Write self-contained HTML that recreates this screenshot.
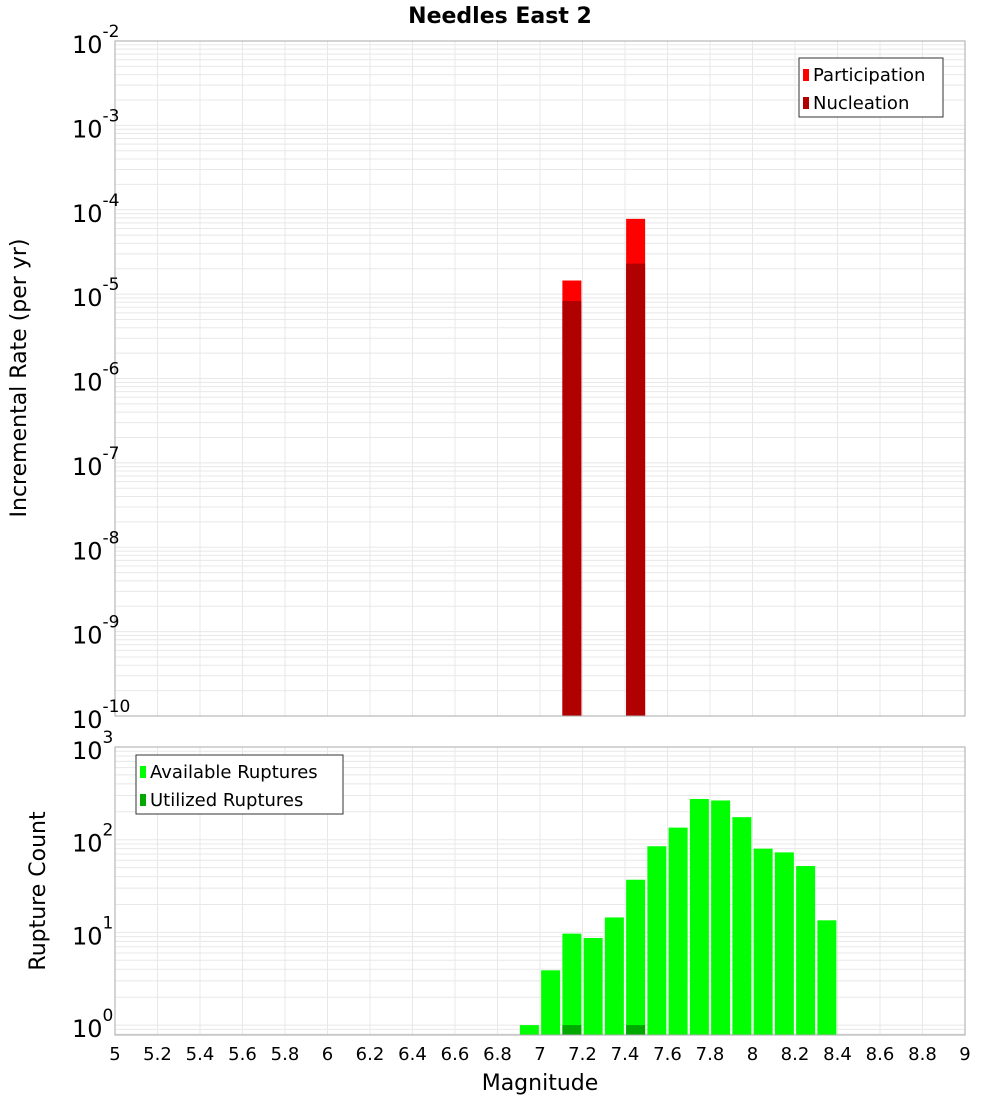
<!DOCTYPE html>
<html><head><meta charset="utf-8"><style>
body{margin:0;background:#fff;font-family:"Liberation Sans","DejaVu Sans",sans-serif}
svg text{font-family:"DejaVu Sans","Liberation Sans",sans-serif}
</style></head><body>
<svg id="c" width="1000" height="1100" xmlns="http://www.w3.org/2000/svg">
<text x="500" y="23" text-anchor="middle" font-size="22" font-weight="bold">Needles East 2</text>
<text transform="translate(26,378) rotate(-90)" text-anchor="middle" font-size="22">Incremental Rate (per yr)</text>
<text transform="translate(45,891) rotate(-90)" text-anchor="middle" font-size="22">Rupture Count</text>
<text x="540" y="1090" text-anchor="middle" font-size="22">Magnitude</text>
<g id="top"></g><g id="bot"></g>
</svg>
<script>
const rateMags=[7.15,7.45];
const participation=[1.45e-5,7.8e-5];
const nucleation=[8.3e-6,2.3e-5];
const countMags=[6.95,7.05,7.15,7.25,7.35,7.45,7.55,7.65,7.75,7.85,7.95,8.05,8.15,8.25,8.35];
const available=[1,3.9,9.7,8.7,14.5,37,85,135,275,265,175,80,73,52,13.5];
const utilMags=[7.15,7.45];
const utilized=[1,1];
const xTicks=[5,5.2,5.4,5.6,5.8,6,6.2,6.4,6.6,6.8,7,7.2,7.4,7.6,7.8,8,8.2,8.4,8.6,8.8,9];
const topExps=[-2,-3,-4,-5,-6,-7,-8,-9,-10];
const botExps=[3,2,1,0];

const NS="http://www.w3.org/2000/svg";
const X0=115,X1=965;
const x=m=>X0+(m-5)/4*(X1-X0);
const yTop=v=>41+(-2-Math.log10(v))*84.375;
const yBot=v=>747+(3-Math.log10(v))*92.7;
function mk(p,t,a){const e=document.createElementNS(NS,t);for(const k in a)e.setAttribute(k,a[k]);p.appendChild(e);return e;}

function frame(g,yT,yB,yf,lo,hi){
  for(let e=lo;e<hi;e++)for(let k=1;k<10;k++){const yy=yf(k*Math.pow(10,e));if(yy<yT||yy>yB)continue;
    const l=mk(g,'line',{x1:X0,x2:X1,y1:yy,y2:yy,stroke:'#e8e8e8','stroke-width':1});
    }
  for(let m=5;m<=9.001;m+=0.2){const xx=x(m);
    const l=mk(g,'line',{x1:xx,x2:xx,y1:yT,y2:yB,stroke:'#e8e8e8','stroke-width':1});
    }
}
const gt=document.getElementById('top'),gb=document.getElementById('bot');
frame(gt,41,716,yTop,-10,-2);
frame(gb,747,1035,yBot,-1,3);

rateMags.forEach((m,i)=>{
  const b=mk(gt,'rect',{x:x(m)-9.5,width:19,y:yTop(participation[i]),height:716-yTop(participation[i]),fill:'#ff0000'});
  
  const n=mk(gt,'rect',{x:x(m)-9.5,width:19,y:yTop(nucleation[i]),height:716-yTop(nucleation[i]),fill:'#b00000'});
  
});
countMags.forEach((m,i)=>{
  const b=mk(gb,'rect',{x:x(m)-9.5,width:19,y:yBot(available[i]),height:1035-yBot(available[i]),fill:'#00ff00'});
  
});
utilMags.forEach((m,i)=>{
  const b=mk(gb,'rect',{x:x(m)-9.5,width:19,y:yBot(utilized[i]),height:1035-yBot(utilized[i]),fill:'#00a800'});
  
});
let f=mk(gt,'rect',{x:X0,y:41,width:X1-X0,height:675,fill:'none',stroke:'#aaa'});

f=mk(gb,'rect',{x:X0,y:747,width:X1-X0,height:288,fill:'none',stroke:'#aaa'});


function ylab(g,yy,e){const t=mk(g,'text',{x:72,y:yy+12,'font-size':24});
  
  t.textContent='10';const s=mk(t,'tspan',{dy:-16,'font-size':17});s.textContent=String(e);}
topExps.forEach(e=>ylab(gt,yTop(Math.pow(10,e)),e));
botExps.forEach(e=>ylab(gb,yBot(Math.pow(10,e)),e));
xTicks.forEach(m=>{const t=mk(gb,'text',{x:x(m),y:1060,'text-anchor':'middle','font-size':18});
  
  t.textContent=String(m);});

function legend(g,lx,ly,w,items){
  const r=mk(g,'rect',{x:lx,y:ly,width:w,height:59,fill:'#fff',stroke:'#333'});
  
  items.forEach((it,i)=>{
    const s=mk(g,'rect',{x:lx+4,y:ly+11+i*28,width:6,height:12,fill:it[1]});
    
    const t=mk(g,'text',{x:lx+14,y:ly+23+i*28,'font-size':18});
    
    t.textContent=it[0];});
}
legend(gt,799,58,144,[['Participation','#ff0000'],['Nucleation','#b00000']]);
legend(gb,136,755,207,[['Available Ruptures','#00ff00'],['Utilized Ruptures','#00a800']]);
</script>
</body></html>
